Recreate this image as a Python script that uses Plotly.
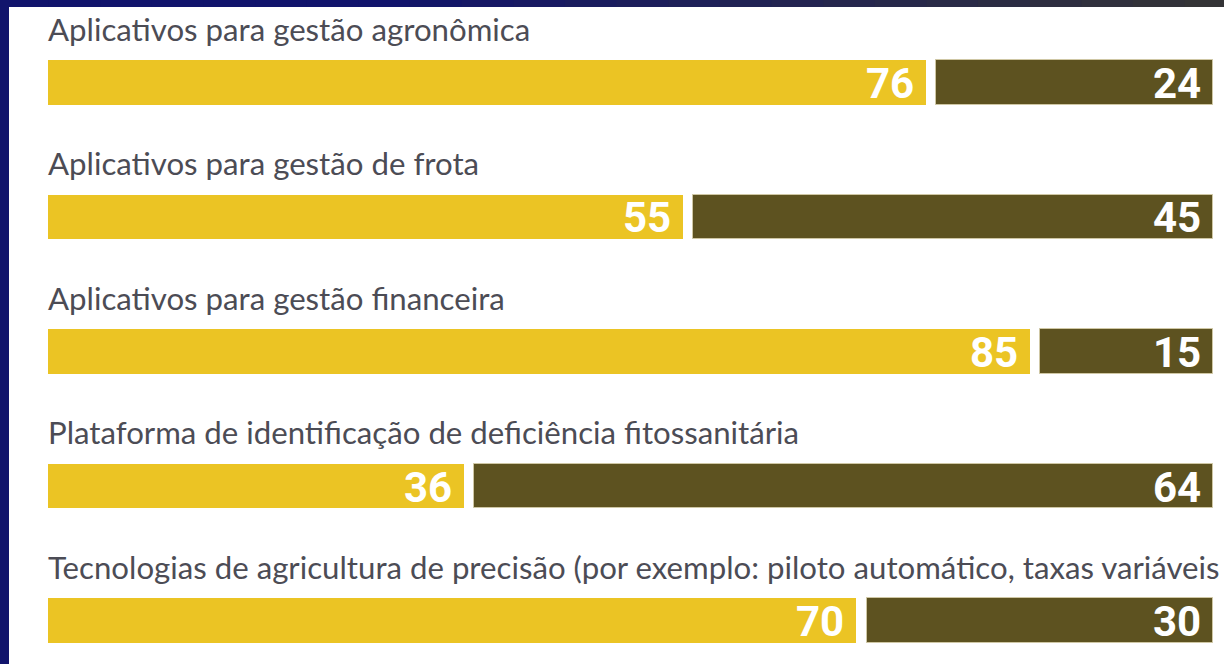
import plotly.graph_objects as go

categories = [
    "Aplicativos para gestão agronômica",
    "Aplicativos para gestão de frota",
    "Aplicativos para gestão financeira",
    "Plataforma de identificação de deficiência fitossanitária",
    "Tecnologias de agricultura de precisão (por exemplo: piloto automático, taxas variáveis",
]
sim_values = [76, 55, 85, 36, 70]
nao_values = [24, 45, 15, 64, 30]

GAP = 0.87
YELLOW = "#EBC424"
OLIVE = "#5D5220"
pos = list(range(len(categories)))

fig = go.Figure()
fig.add_trace(go.Bar(
    y=pos, x=sim_values, orientation="h", width=0.33,
    marker=dict(color=YELLOW, line=dict(width=0)),
    name="Sim", hoverinfo="x",
))
fig.add_trace(go.Bar(
    y=pos, x=nao_values, base=[v + GAP for v in sim_values], orientation="h", width=0.33,
    marker=dict(color=OLIVE, line=dict(width=1, color="#cfc7a4")),
    name="Não", hoverinfo="x",
))

value_font = dict(family="Roboto", size=42, color="white", weight=700)
annotations = []
for i, cat in enumerate(categories):
    annotations.append(dict(
        x=0, y=i - 0.40, xref="x", yref="y", text=cat, showarrow=False,
        xanchor="left", yanchor="middle", xshift=-2,
        font=dict(family="Lato", size=31.2, color="#4c4c55"),
    ))
    annotations.append(dict(
        x=sim_values[i], y=i, xref="x", yref="y", text=str(sim_values[i]),
        showarrow=False, xanchor="right", yanchor="middle", xshift=-10, yshift=-1,
        font=value_font,
    ))
    annotations.append(dict(
        x=sim_values[i] + GAP + nao_values[i], y=i, xref="x", yref="y",
        text=str(nao_values[i]), showarrow=False, xanchor="right", yanchor="middle",
        xshift=-10, yshift=-1,
        font=value_font,
    ))

# top frame strip: navy fading to dark grey
shapes = []
n = 24
c0 = (0x11, 0x14, 0x6c)
c1 = (0x34, 0x34, 0x36)
for k in range(n):
    t = k / (n - 1)
    t = max(0.0, (t - 0.3) / 0.7)
    c = tuple(int(round(a + (b - a) * t)) for a, b in zip(c0, c1))
    shapes.append(dict(
        type="rect", xref="paper", yref="paper", layer="below",
        x0=-0.01 + k / n * 1.02, x1=-0.01 + (k + 1) / n * 1.02 + 0.002,
        y0=1.0, y1=1.02, line=dict(width=0), fillcolor="rgb(%d,%d,%d)" % c,
    ))

fig.update_layout(
    width=1224, height=664,
    margin=dict(l=9, r=0, t=7, b=0, pad=0),
    paper_bgcolor="#11146c",
    plot_bgcolor="white",
    barmode="overlay",
    showlegend=False,
    bargap=0,
    xaxis=dict(range=[-3.377, 101.82], visible=False, fixedrange=True),
    yaxis=dict(range=[4.323, -0.561], visible=False, fixedrange=True),
    annotations=annotations,
    shapes=shapes,
)
fig.write_html(
    "out.html",
    config={"displayModeBar": False},
    post_script="document.body.style.margin='0';document.body.style.overflow='hidden';",
)
